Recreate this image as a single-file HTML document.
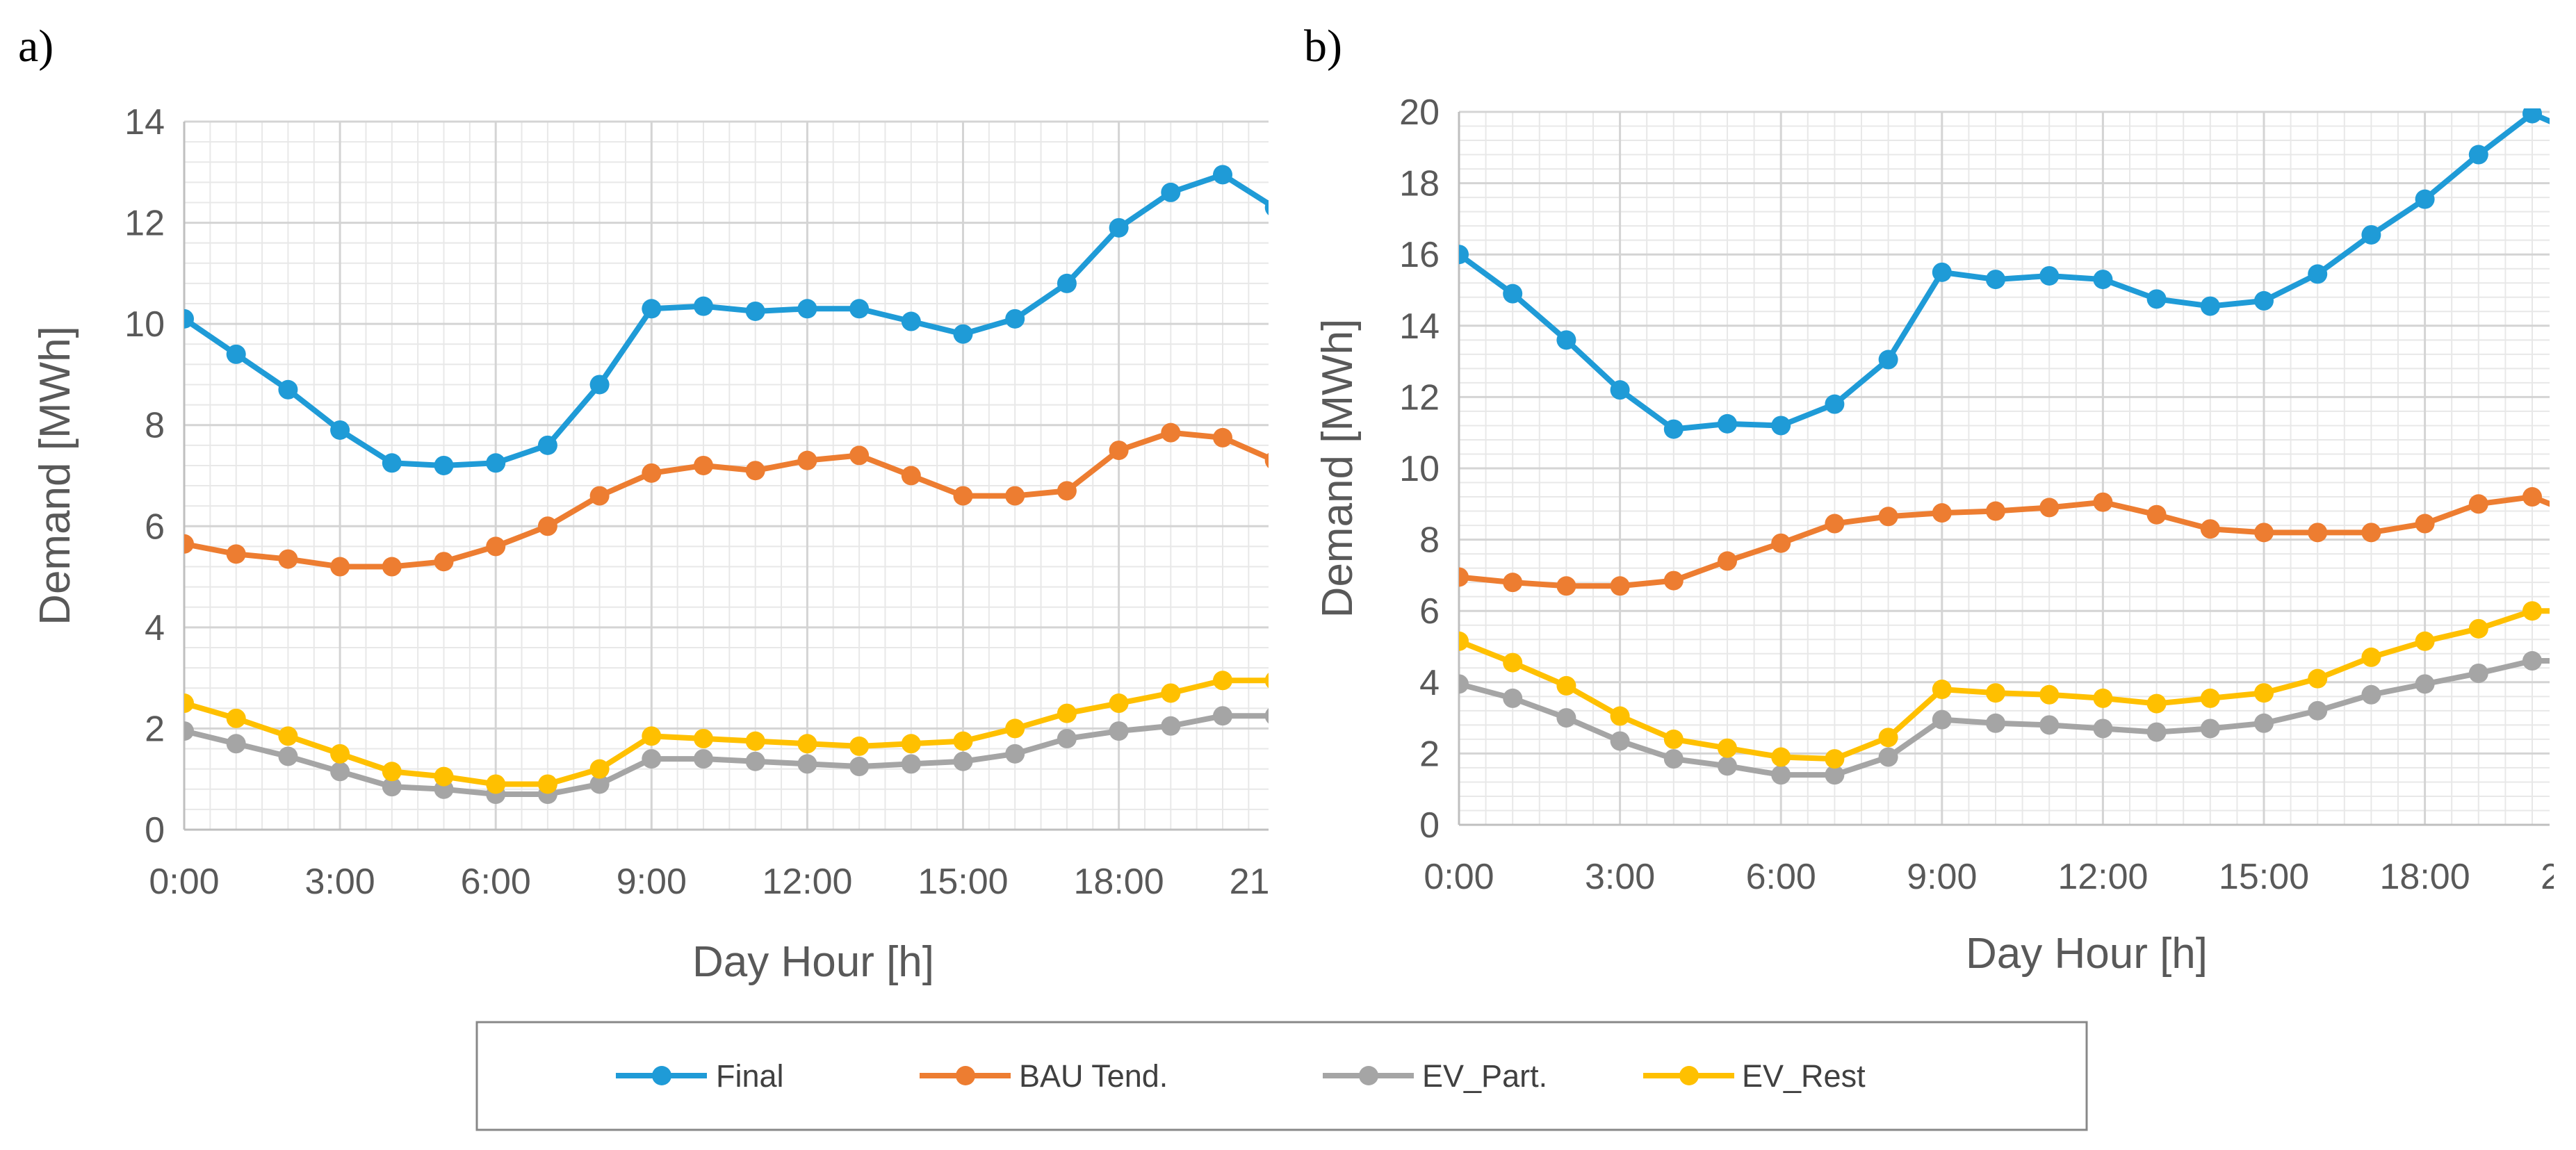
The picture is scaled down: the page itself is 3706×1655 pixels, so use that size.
<!DOCTYPE html>
<html><head><meta charset="utf-8"><style>
html,body{margin:0;padding:0;background:#fff;}
svg{display:block;}
</style></head><body>
<svg id="chart" width="3706" height="1655" viewBox="0 0 3706 1655" xmlns="http://www.w3.org/2000/svg" font-family="'Liberation Sans', sans-serif">
<defs>
<clipPath id="clipA"><rect x="265" y="170" width="1560" height="1030"/></clipPath>
<clipPath id="clipB"><rect x="2099" y="156" width="1569" height="1036"/></clipPath>
</defs>
<text x="26" y="88" font-family="'Liberation Serif', serif" font-size="66" fill="#000">a)</text>
<text x="1876" y="88" font-family="'Liberation Serif', serif" font-size="66" fill="#000">b)</text>
<g id="gA"></g>
<g id="gB"></g>
<g>
<rect x="686" y="1471" width="2316" height="155" fill="#fff" stroke="#888" stroke-width="3"/>
<g><line x1="886" y1="1548" x2="1017" y2="1548" stroke="#1f9bd7" stroke-width="8"/><circle cx="952" cy="1548" r="14" fill="#1f9bd7"/><text x="1030" y="1564" font-size="45" fill="#404040">Final</text></g>
<g><line x1="1323" y1="1548" x2="1454" y2="1548" stroke="#ed7d31" stroke-width="8"/><circle cx="1389" cy="1548" r="14" fill="#ed7d31"/><text x="1466" y="1564" font-size="45" fill="#404040">BAU Tend.</text></g>
<g><line x1="1903" y1="1548" x2="2034" y2="1548" stroke="#a5a5a5" stroke-width="8"/><circle cx="1969" cy="1548" r="14" fill="#a5a5a5"/><text x="2046" y="1564" font-size="45" fill="#404040">EV_Part.</text></g>
<g><line x1="2364" y1="1548" x2="2495" y2="1548" stroke="#ffc000" stroke-width="8"/><circle cx="2430" cy="1548" r="14" fill="#ffc000"/><text x="2506" y="1564" font-size="45" fill="#404040">EV_Rest</text></g>
</g>
</svg>
<script>
const hours = [0,1,2,3,4,5,6,7,8,9,10,11,12,13,14,15,16,17,18,19,20,21];
const xTickLabels = ["0:00","3:00","6:00","9:00","12:00","15:00","18:00","21:00"];
const seriesNames = ["Final","BAU Tend.","EV_Part.","EV_Rest"];
const aFinal = [10.1,9.4,8.7,7.9,7.25,7.2,7.25,7.6,8.8,10.3,10.35,10.25,10.3,10.3,10.05,9.8,10.1,10.8,11.9,12.6,12.95,12.3];
const aBAU = [5.65,5.45,5.35,5.2,5.2,5.3,5.6,6.0,6.6,7.05,7.2,7.1,7.3,7.4,7.0,6.6,6.6,6.7,7.5,7.85,7.75,7.3];
const aEVPart = [1.95,1.7,1.45,1.15,0.85,0.8,0.7,0.7,0.9,1.4,1.4,1.35,1.3,1.25,1.3,1.35,1.5,1.8,1.95,2.05,2.25,2.25];
const aEVRest = [2.5,2.2,1.85,1.5,1.15,1.05,0.9,0.9,1.2,1.85,1.8,1.75,1.7,1.65,1.7,1.75,2.0,2.3,2.5,2.7,2.95,2.95];
const bFinal = [16.0,14.9,13.6,12.2,11.1,11.25,11.2,11.8,13.05,15.5,15.3,15.4,15.3,14.75,14.55,14.7,15.45,16.55,17.55,18.8,19.95,19.3];
const bBAU = [6.95,6.8,6.7,6.7,6.85,7.4,7.9,8.45,8.65,8.75,8.8,8.9,9.05,8.7,8.3,8.2,8.2,8.2,8.45,9.0,9.2,8.6];
const bEVPart = [3.95,3.55,3.0,2.35,1.85,1.65,1.4,1.4,1.9,2.95,2.85,2.8,2.7,2.6,2.7,2.85,3.2,3.65,3.95,4.25,4.6,4.6];
const bEVRest = [5.15,4.55,3.9,3.05,2.4,2.15,1.9,1.85,2.45,3.8,3.7,3.65,3.55,3.4,3.55,3.7,4.1,4.7,5.15,5.5,6.0,6.0];
const aYTicks = [0,2,4,6,8,10,12,14];
const bYTicks = [0,2,4,6,8,10,12,14,16,18,20];
const colors = ["#1f9bd7","#ed7d31","#a5a5a5","#ffc000"];
const NS = "http://www.w3.org/2000/svg";
function mk(tag, attrs, parent){const e=document.createElementNS(NS,tag);for(const k in attrs)e.setAttribute(k,attrs[k]);parent.appendChild(e);return e;}

function drawPanel(g, cfg, series, yTicks, prefix){
  const x = h => cfg.x0 + h*cfg.hw;
  const y = v => cfg.y0 - (v/cfg.ymax)*(cfg.y0-cfg.yTop);
  const right = cfg.right;
  const step = yTicks[1]-yTicks[0];
  for(let v=0; v<=cfg.ymax+1e-9; v+=step/5){
    const l=mk('line',{x1:cfg.x0,x2:right,y1:y(v),y2:y(v),stroke:'#e8e8e8','stroke-width':2},g);
    
    
  }
  for(let h=0; x(h)<=right; h+=0.5){
    const l=mk('line',{x1:x(h),x2:x(h),y1:cfg.yTop,y2:cfg.y0,stroke:'#e8e8e8','stroke-width':2},g);
    
    
  }
  yTicks.forEach(v=>{
    const l=mk('line',{x1:cfg.x0,x2:right,y1:y(v),y2:y(v),stroke:'#d4d4d4','stroke-width':3},g);
    
    
    const t=mk('text',{x:cfg.x0-28,y:y(v)+18,'text-anchor':'end','font-size':52,fill:'#595959'},g);
    t.textContent=v;
    
    
  });
  xTickLabels.forEach((lab,i)=>{
    const h=i*3;
    if(x(h)<=right){
      const l=mk('line',{x1:x(h),x2:x(h),y1:cfg.yTop,y2:cfg.y0,stroke:'#d4d4d4','stroke-width':3},g);
      
      
    }
    const t=mk('text',{x:x(h),y:cfg.y0+92,'text-anchor':'middle','font-size':52,fill:'#595959'},g);
    t.textContent=lab;
    
    
  });
  const cov=mk('rect',{x:right+6,y:cfg.y0+20,width:120,height:100,fill:'#fff'},g);
  
  
  const ax=mk('line',{x1:cfg.x0,x2:cfg.x0,y1:cfg.yTop,y2:cfg.y0,stroke:'#bfbfbf','stroke-width':3},g);
  
  
  const bx=mk('line',{x1:cfg.x0,x2:right,y1:cfg.y0,y2:cfg.y0,stroke:'#bfbfbf','stroke-width':3},g);
  
  
  const yt=mk('text',{x:0,y:0,'text-anchor':'middle','font-size':62,fill:'#595959',transform:`translate(${cfg.ytx},${(cfg.yTop+cfg.y0)/2}) rotate(-90)`},g);
  yt.textContent='Demand [MWh]';
  
  
  const xt=mk('text',{x:cfg.xtx,y:cfg.xty,'text-anchor':'middle','font-size':62,fill:'#595959'},g);
  xt.textContent='Day Hour [h]';
  
  
  const sg=mk('g',{'clip-path':`url(#${cfg.clip})`},g);
  series.forEach((vals,si)=>{
    const pts=vals.map((v,i)=>x(hours[i])+','+y(v)).join(' ');
    const pl=mk('polyline',{points:pts,fill:'none',stroke:colors[si],'stroke-width':8,'stroke-linejoin':'round'},sg);
    
    
    vals.forEach((v,i)=>{
      const c=mk('circle',{cx:x(hours[i]),cy:y(v),r:14,fill:colors[si]},sg);
      
      
    });
  });
}
drawPanel(document.getElementById('gA'),{x0:265,hw:74.7,right:1825,y0:1194,yTop:175,ymax:14,clip:'clipA',ytx:100,xtx:1170,xty:1405},[aFinal,aBAU,aEVPart,aEVRest],aYTicks,'a');
drawPanel(document.getElementById('gB'),{x0:2099,hw:77.2,right:3668,y0:1187,yTop:161,ymax:20,clip:'clipB',ytx:1945,xtx:3002,xty:1393},[bFinal,bBAU,bEVPart,bEVRest],bYTicks,'b');
</script>
</body></html>
